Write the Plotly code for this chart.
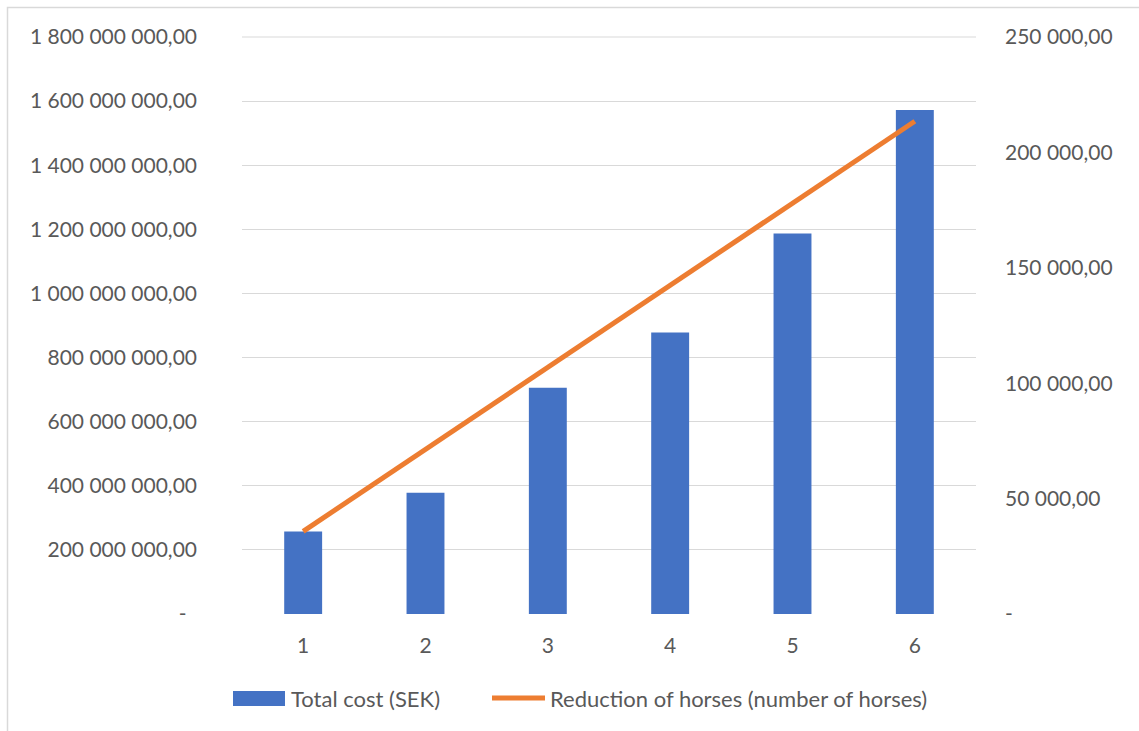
import plotly.graph_objects as go

categories = [1, 2, 3, 4, 5, 6]
total_cost_sek = [257e6, 378e6, 706e6, 878e6, 1187e6, 1572e6]
horse_reduction = [35800, 71300, 106900, 142600, 178000, 213500]

left_tickvals = [0, 2e8, 4e8, 6e8, 8e8, 1e9, 1.2e9, 1.4e9, 1.6e9, 1.8e9]
left_ticktext = ["-\u2002", "200 000 000,00", "400 000 000,00", "600 000 000,00", "800 000 000,00",
                 "1 000 000 000,00", "1 200 000 000,00", "1 400 000 000,00",
                 "1 600 000 000,00", "1 800 000 000,00"]
right_tickvals = [0, 50000, 100000, 150000, 200000, 250000]
right_ticktext = ["-", "50 000,00", "100 000,00", "150 000,00", "200 000,00", "250 000,00"]

series_names = ["Total cost (SEK)", "Reduction of horses (number of horses)"]
BLUE = "#4472C4"
ORANGE = "#ED7D31"
FONT = "Lato"
TXT = "#595959"
GRID = "#d9d9d9"
FS = 21

W, H = 1139, 731
ML, MR, MT, MB = 242, 163, 36, 117
PW, PH = W - ML - MR, H - MT - MB

def px(x):
    return (x - ML) / PW

def py(y):
    return (H - MB - y) / PH

Y_TOP = 1.8e9 * (PH / (PH - 1))

fig = go.Figure()
fig.add_trace(go.Bar(x=categories, y=total_cost_sek, name=series_names[0],
                     marker=dict(color=BLUE, line=dict(width=0)), yaxis="y", showlegend=False))
fig.add_trace(go.Scatter(x=categories, y=horse_reduction, name=series_names[1], mode="lines",
                         line=dict(color=ORANGE, width=5), yaxis="y2", showlegend=False))

fig.update_layout(
    width=W, height=H,
    margin=dict(l=ML, r=MR, t=MT, b=MB),
    paper_bgcolor="white", plot_bgcolor="white",
    font=dict(family=FONT, size=FS, color=TXT),
    bargap=0.69,
    xaxis=dict(range=[0.5, 6.5], tickvals=categories, ticktext=[str(c) for c in categories],
               showgrid=False, zeroline=False, showline=False, ticks="",
               ticklabelstandoff=17, tickfont=dict(size=FS, color=TXT)),
    yaxis=dict(range=[0, Y_TOP], tickvals=left_tickvals, ticktext=left_ticktext,
               showgrid=True, gridcolor=GRID, gridwidth=1, zeroline=False,
               showline=False, ticks="", ticklabelstandoff=44,
               tickfont=dict(size=FS, color=TXT)),
    yaxis2=dict(range=[0, 250000 * Y_TOP / 1.8e9], tickvals=right_tickvals, ticktext=right_ticktext,
                overlaying="y", side="right", showgrid=False, zeroline=False,
                showline=False, ticks="", ticklabelstandoff=28,
                tickfont=dict(size=FS, color=TXT)),
)

# top gridline (plotly skips gridlines at the plot edge)
fig.add_shape(type="line", xref="x domain", yref="y", x0=0, x1=1,
              y0=left_tickvals[-1], y1=left_tickvals[-1],
              line=dict(color=GRID, width=1), layer="below")

# chart border
fig.add_shape(type="rect", xref="paper", yref="paper",
              x0=px(7.5), x1=px(1145), y0=py(745), y1=py(7.5),
              line=dict(color=GRID, width=1.5), fillcolor="rgba(0,0,0,0)", layer="below")

# custom legend
ly = py(698)
fig.add_shape(type="rect", xref="paper", yref="paper",
              x0=px(233), x1=px(285), y0=py(706), y1=py(691),
              line=dict(width=0), fillcolor=BLUE)
fig.add_annotation(xref="paper", yref="paper", x=px(289), y=ly, text=series_names[0],
                   showarrow=False, xanchor="left", yanchor="middle",
                   font=dict(family=FONT, size=22, color=TXT))
fig.add_shape(type="line", xref="paper", yref="paper",
              x0=px(492), x1=px(545), y0=ly, y1=ly,
              line=dict(color=ORANGE, width=5))
fig.add_annotation(xref="paper", yref="paper", x=px(548), y=ly, text=series_names[1],
                   showarrow=False, xanchor="left", yanchor="middle",
                   font=dict(family=FONT, size=22, color=TXT))

fig.write_html("out.html")
